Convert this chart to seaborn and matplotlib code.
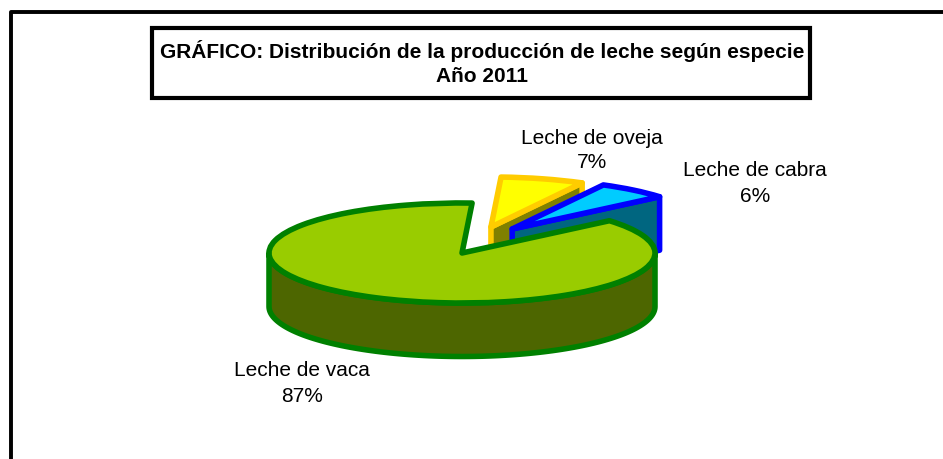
import numpy as np
import matplotlib
matplotlib.use("Agg")
import matplotlib.pyplot as plt
from matplotlib.patches import Rectangle
from matplotlib.lines import Line2D
import seaborn as sns

categories = ["Leche de vaca", "Leche de cabra", "Leche de oveja"]
values = [87, 6, 7]
title_lines = ["GRÁFICO: Distribución de la producción de leche según especie", "Año 2011"]

top_colors = ["#99cc00", "#00ccff", "#ffff00"]
wall_colors = ["#4d6600", "#006680", "#808000"]
edge_colors = ["#008000", "#0000ff", "#ffcc00"]

W, H = 943, 459
CX, CY, RX, RY = 462, 253, 193, 50
DEPTH = 1.07
START = 87
offsets = [(0, 0), (0.26, 0.48), (0.15, 0.52)]
radii = [1.0, 1.0, 1.0]
LW = 4.0
FS = 15.0

sns.set_theme(style="white")
plt.rcParams["font.family"] = ["Liberation Sans", "DejaVu Sans"]

fig = plt.figure(figsize=(W / 100, H / 100), dpi=100, facecolor="white")
ax = fig.add_axes([0, 0, 1, 1])
wedges, _ = ax.pie(values, startangle=START, colors=top_colors, radius=1,
                   wedgeprops=dict(linewidth=LW, joinstyle="round"))
ax.set_aspect("auto")
ax.set_xlim(-CX / RX, (W - CX) / RX)
ax.set_ylim(-(H - CY) / RY, CY / RY)
ax.axis("off")

# angles of each slice, from the values
fracs = np.array(values) / sum(values) * 360
ends = START + np.cumsum(fracs)
starts = ends - fracs

# draw back to front: oveja, cabra, vaca
for z, i in [(2, 2), (4, 1), (6, 0)]:
    ox, oy = offsets[i]
    r = radii[i]
    w = wedges[i]
    w.set_center((ox, oy))
    w.set_radius(r)
    w.set_edgecolor(edge_colors[i])
    w.set_zorder(z + 1)
    if i == 0:
        t = np.radians(np.linspace(180, 360, 120))
        xs = r * np.cos(t)
        ys = r * np.sin(t)
        px = np.r_[xs, xs[::-1]]
        py = np.r_[ys, ys[::-1] - DEPTH]
    else:
        a = np.radians(starts[i])
        ex, ey = ox + r * np.cos(a), oy + r * np.sin(a)
        px = [ox, ex, ex, ox]
        py = [oy, ey, ey - DEPTH, oy - DEPTH]
    ax.fill(px, py, facecolor=wall_colors[i], edgecolor=edge_colors[i],
            linewidth=LW, joinstyle="round", zorder=z)


def fx(x):
    return x / W


def fy(y):
    return 1 - y / H


label_pos = [(302, 370, 396), (755, 171, 197), (592, 138, 163)]
for cat, v, (x, y1, y2) in zip(categories, values, label_pos):
    fig.text(fx(x), fy(y1), cat, ha="center", va="center", fontsize=FS, color="black", zorder=10)
    fig.text(fx(x), fy(y2), f"{v}%", ha="center", va="center", fontsize=FS, color="black", zorder=10)

# title box
fig.add_artist(Rectangle((fx(152), fy(97.5)), (810 - 152) / W, (97.5 - 27.5) / H,
                         transform=fig.transFigure, facecolor="white",
                         edgecolor="black", linewidth=3.0))
fig.text(fx(482), fy(51), title_lines[0], ha="center", va="center", fontsize=FS,
         fontweight="bold", color="black")
fig.text(fx(482), fy(77), title_lines[1], ha="center", va="center", fontsize=FS,
         fontweight="bold", color="black")

# outer frame (cut by the image edge)
fig.add_artist(Line2D([fx(11), fx(11), fx(W + 5)], [fy(H + 5), fy(11.5), fy(11.5)],
                      transform=fig.transFigure, color="black", linewidth=2.8))

fig.savefig("out.png", dpi=100, facecolor="white")
